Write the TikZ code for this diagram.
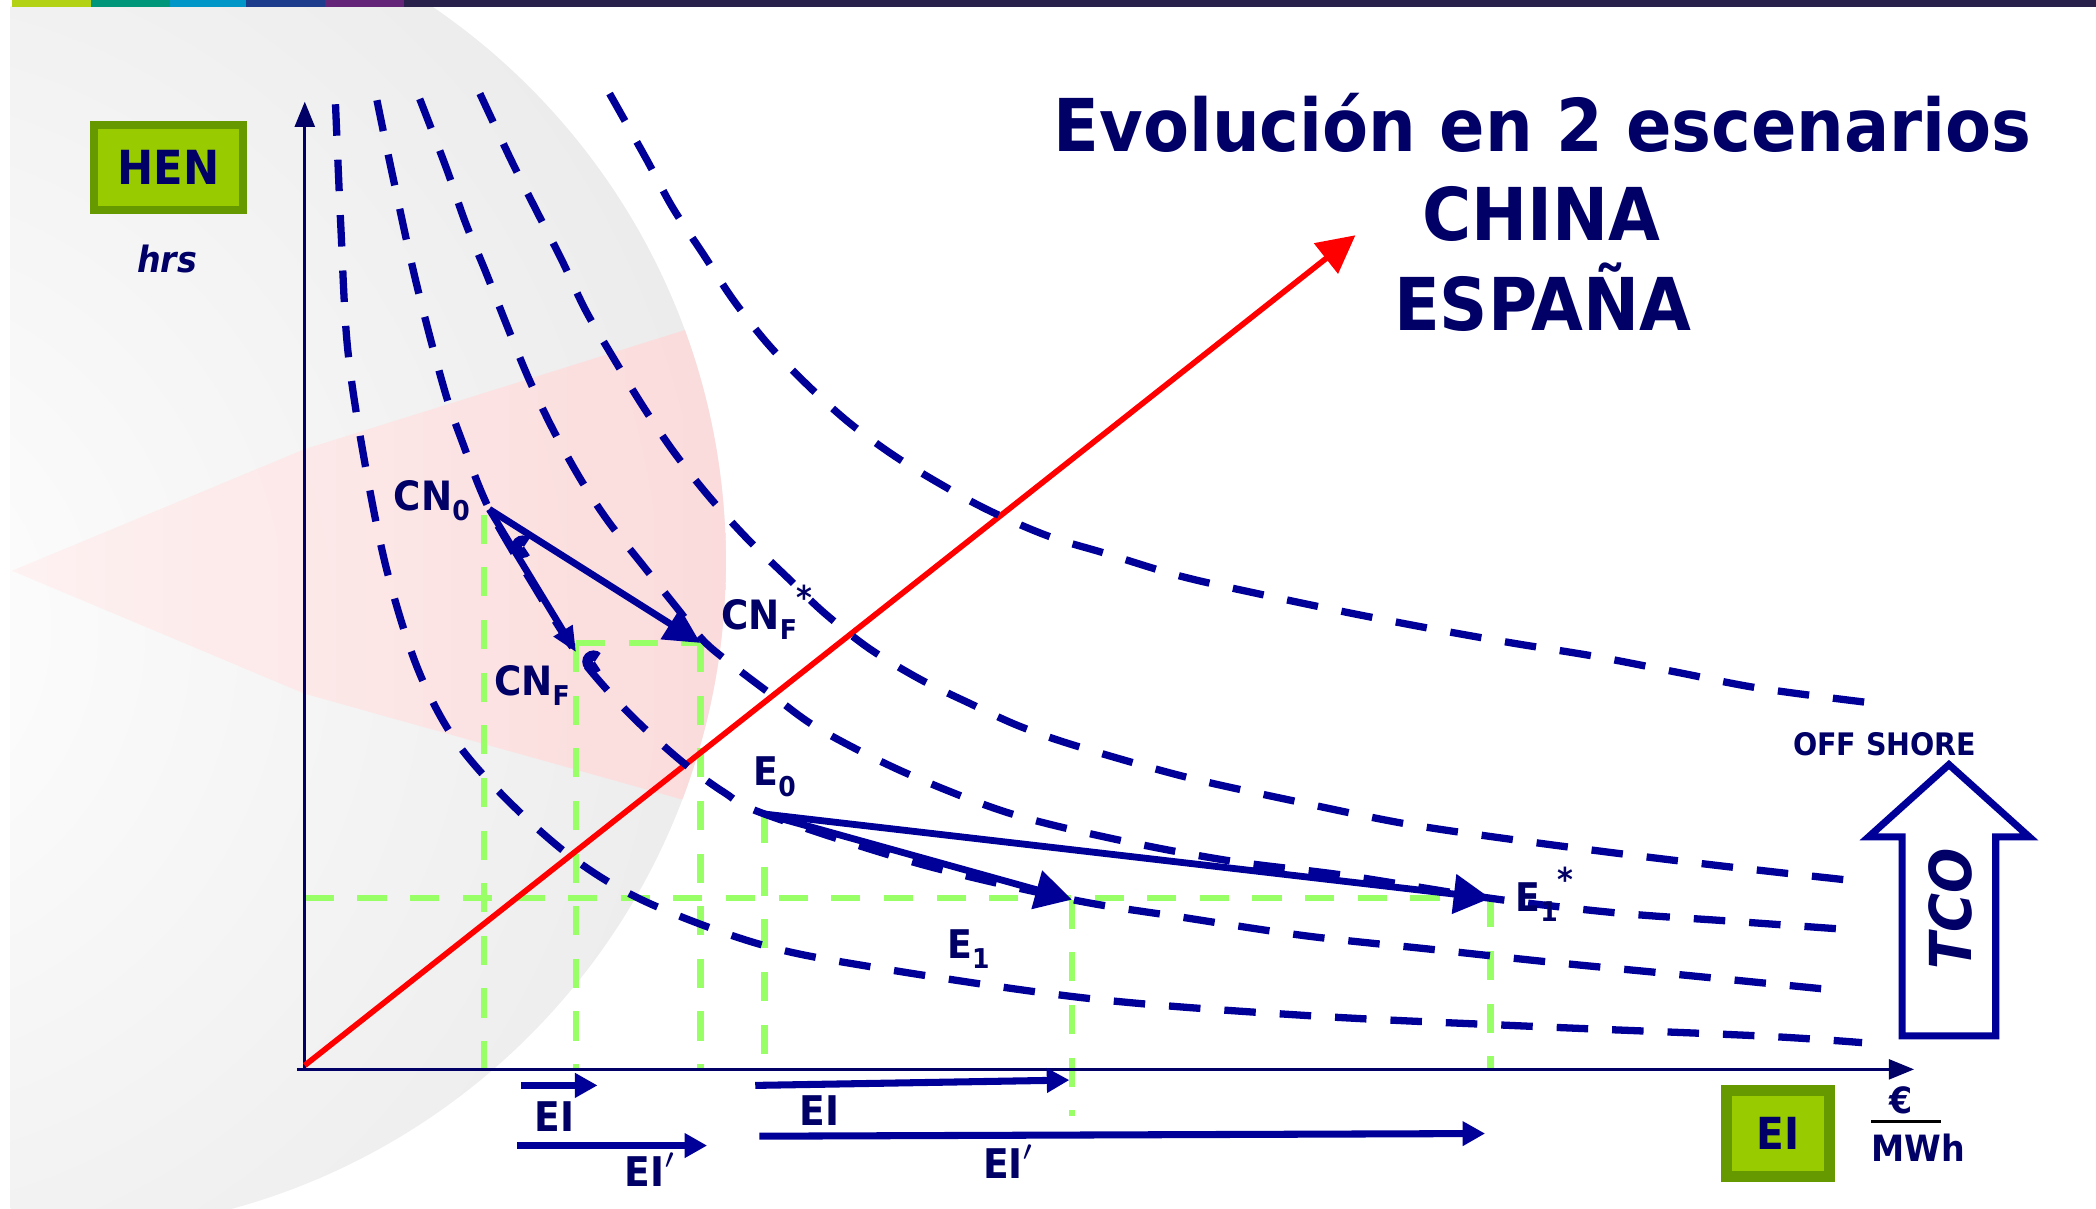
\documentclass[tikz,border=0pt]{standalone}
\usepackage{fontspec}
\setmainfont{DejaVu Sans}[FakeStretch=0.92]
\usetikzlibrary{arrows.meta}

\definecolor{inkblue}{HTML}{000066}
\definecolor{curveblue}{HTML}{000099}
\definecolor{guidegreen}{HTML}{99FF66}
\definecolor{boxgreen}{HTML}{99CC00}
\definecolor{boxedge}{HTML}{669900}
\definecolor{barlime}{HTML}{B4D214}
\definecolor{barteal}{HTML}{00967A}
\definecolor{barcyan}{HTML}{0096C8}
\definecolor{barblue}{HTML}{1E3C8C}
\definecolor{barpurple}{HTML}{642478}
\definecolor{barnavy}{HTML}{28214B}

\newcommand{\lowidx}[1]{\raisebox{-2.2pt}{\fontsize{5.8}{6}\selectfont #1}}
\newcommand{\starmark}{\raisebox{4.2pt}{\fontsize{7}{7}\selectfont *}}

\tikzset{
  isocurve/.style={draw=curveblue, line width=1.55pt, dash pattern=on 6.7pt off 5.1pt},
  guide/.style={draw=guidegreen, line width=1.35pt, dash pattern=on 6.2pt off 5pt},
  axis/.style={draw=inkblue, line width=0.7pt, -{Triangle[length=5.4pt,width=4.2pt]}},
  vec/.style={draw=curveblue, line width=1.45pt, -{Triangle[length=7.8pt,width=8.2pt]}},
  vecsmall/.style={draw=curveblue, line width=1.45pt, -{Triangle[length=5.4pt,width=4.4pt]}},
  flow/.style={draw=curveblue, line width=1.5pt, -{Triangle[length=4.8pt,width=5pt]}},
  anglemark/.style={draw=curveblue, line width=2.2pt},
  ptlabel/.style={text=inkblue, font=\bfseries\fontsize{8.6}{10}\selectfont, inner sep=0pt},
  elabel/.style={ptlabel, font=\bfseries\fontsize{8.4}{10}\selectfont},
  flowlabel/.style={ptlabel, font=\bfseries\fontsize{8.7}{10}\selectfont},
  keybox/.style={draw=boxedge, fill=boxgreen, text=inkblue, inner sep=0pt},
  headline/.style={text=inkblue, font=\bfseries\fontsize{15.5}{18}\selectfont, inner sep=0pt, anchor=base},
}

\begin{document}
\begin{tikzpicture}[x=0.01cm, y=-0.01cm]
\useasboundingbox (0,0) rectangle (1568,904);

% shaded ball with the pink wedge
\begin{scope}
  \clip (8,5) rectangle (1568,904);
  \clip (41,420) circle (502);
  \shade[inner color=white, outer color=gray!25] (-120,470) circle (1120);
  \shade[left color=red!6, right color=red!16, fill opacity=0.8] (9,427) -- (228,336) -- (560,232) -- (560,612) -- (228,519) -- cycle;
\end{scope}

% colour bar
\fill[barlime] (9,0) rectangle (68,5);
\fill[barteal] (68,0) rectangle (127,5);
\fill[barcyan] (127,0) rectangle (184,5);
\fill[barblue] (184,0) rectangle (243,5);
\fill[barpurple] (243,0) rectangle (302,5);
\fill[barnavy] (302,0) rectangle (1568,5);

% points
\coordinate (O) at (228,800);
\coordinate (xstart) at (222,800);
\coordinate (xend) at (1432,800);
\coordinate (ytop) at (228,76);
\coordinate (rstart) at (228,797);
\coordinate (rtip) at (1014,176);
\coordinate (cn0) at (366,381);
\coordinate (cnf) at (431,488);
\coordinate (cnfs) at (524,481);
\coordinate (e0) at (572,609);
\coordinate (e1) at (802,673);
\coordinate (e1s) at (1115,672);

% green guides
\draw[guide] (cn0) ++(-4,4) coordinate (cn0g) -- (cn0g |- O);
\draw[guide] (cnf |- cnfs) -- (cnfs);
\draw[guide] (cnf |- cnfs) -- (cnf |- O);
\draw[guide] (cnfs) -- (cnfs |- O);
\draw[guide] (e0) -- (e0 |- O);
\draw[guide] (O |- e1s) -- (e1s);
\draw[guide] (e1) -- ([yshift=-10]e1 |- O);
\draw[guide] (e1s) -- (e1s |- O);

% axes and red ray
\draw[axis] (O) -- (ytop);
\draw[axis] (xstart) -- (xend);
\draw[draw=red, line width=1.2pt, -{Triangle[length=8pt,width=8pt]}] (rstart) -- (rtip);

% iso-curves
\draw[isocurve] plot[smooth, tension=0.55] coordinates {(251,78) (255,170) (260,260) (272,341) (289,425) (312,499) (340,553) (380,599) (430,643) (484,675) (567,706) (650,723) (815,747) (982,760) (1150,768) (1317,775) (1393,780)};
\draw[isocurve] plot[smooth, tension=0.55] coordinates {(282,75) (293,128) (311,210) (332,290) (346,331) (366,381) (398,436) (431,488) (468,531) (508,568) (542,593) (572,609) (687,646) (802,673) (883,686) (976,700) (1069,710) (1162,720) (1255,729) (1376,741)};
\draw[isocurve] plot[smooth, tension=0.55] coordinates {(314,74) (334,126) (348,166) (364,205) (379,243) (395,282) (413,320) (434,358) (455,390) (481,423) (505,453) (526,479) (546,496) (579,521) (614,546) (677,578) (754,608) (835,628) (920,644) (1007,655) (1115,672) (1210,683) (1293,689) (1377,695)};
\draw[isocurve] plot[smooth, tension=0.55] coordinates {(359,70) (382,119) (401,157) (420,194) (438,232) (459,268) (481,304) (504,338) (530,371) (559,403) (589,432) (616,458) (650,485) (688,508) (725,526) (762,543) (805,558) (886,581) (967,599) (1050,616) (1131,628) (1215,639) (1298,649) (1388,659)};
\draw[isocurve] plot[smooth, tension=0.55] coordinates {(456,70) (483,118) (503,155) (526,190) (549,225) (575,258) (604,288) (635,316) (669,341) (705,363) (740,382) (784,401) (827,414) (883,431) (945,445) (1007,458) (1069,470) (1131,481) (1193,491) (1255,503) (1317,515) (1401,526)};

% moves
\draw[vec, -{Triangle[length=7.6pt,width=7.4pt]}] (cn0) -- (cnfs);
\draw[vecsmall] (cn0) -- (cnf);
\draw[vec] (e0) -- (e1);
\draw[vec] (e0) -- (e1s);
\coordinate (mk1) at (391,409);
\coordinate (mk2) at (444,495);
\draw[anglemark] (mk1) ++(45:4.5) arc[start angle=45, end angle=315, radius=4.5];
\draw[anglemark] (mk2) ++(45:4.5) arc[start angle=45, end angle=315, radius=4.5];

% point labels
\node[ptlabel, anchor=base west] (cn0lbl) at (294,382) {CN\lowidx{0}};
\node[ptlabel, anchor=base west] (cnflbl) at (369,520) {CN\lowidx{F}};
\node[ptlabel, anchor=base west] (cnfslbl) at (539,471) {CN\lowidx{F}\starmark};
\node[elabel, anchor=base west] (e0lbl) at (563,588) {E\lowidx{0}};
\node[elabel, anchor=base west] (e1lbl) at (708,717) {E\lowidx{1}};
\node[elabel, anchor=base west] (e1slbl) at (1133,682) {E\lowidx{1}\starmark};

% title
\node[headline] (title) at (1154,113) {Evolución en 2 escenarios};
\node[headline] (china) at (1153,180) {CHINA};
\node[headline] (spain) at (1154,247) {ESPAÑA};

% y side
\node[keybox, line width=1.7pt, minimum width=1.12cm, minimum height=0.635cm, font=\bfseries\fontsize{10}{12}\selectfont] (henbox) at (126,125) {HEN};
\node[text=inkblue, anchor=base, inner sep=0pt, font=\bfseries\itshape\fontsize{7.7}{9}\selectfont] (hrs) at (125,204) {hrs};

% offshore arrow
\node[text=inkblue, anchor=base, inner sep=0pt, font=\bfseries\fontsize{6.6}{8}\selectfont] (offshore) at (1410,565) {OFF SHORE};
\draw[draw=curveblue, line width=1.5pt, fill=white] (1458,572) -- (1518,626) -- (1493,626) -- (1493,775) -- (1423,775) -- (1423,626) -- (1398,626) -- cycle;
\node[text=inkblue, rotate=90, inner sep=0pt, font=\bfseries\itshape\fontsize{12.3}{14}\selectfont] (tco) at (1459,680) {TCO};

% x side
\node[keybox, line width=2.4pt, minimum width=0.77cm, minimum height=0.645cm, font=\bfseries\fontsize{9.4}{11}\selectfont] (eibox) at (1330,848) {EI};
\node[text=inkblue, anchor=base, inner sep=0pt, font=\bfseries\fontsize{7.7}{9}\selectfont] (euro) at (1422,833) {€};
\coordinate (fracl) at (1400,839);
\coordinate (fracr) at (1452,839);
\draw[line width=0.5pt] (fracl) -- (fracr);
\node[text=inkblue, anchor=base, inner sep=0pt, font=\bfseries\fontsize{7.7}{9}\selectfont] (mwh) at (1435,869) {MWh};

% shifts along the axis
\coordinate (a1s) at (390,812);
\coordinate (a1e) at (447,812);
\coordinate (a2s) at (387,857);
\coordinate (a2e) at (529,857);
\coordinate (a3s) at (565,812);
\coordinate (a3e) at (800,808);
\coordinate (a4s) at (568,850);
\coordinate (a4e) at (1111,848);
\draw[flow] (a1s) -- (a1e);
\draw[flow] (a2s) -- (a2e);
\draw[flow] (a3s) -- (a3e);
\draw[flow] (a4s) -- (a4e);
\node[flowlabel] (ei1) at (415,835) {EI};
\node[flowlabel] (eip1) at (487,875) {EI$'$};
\node[flowlabel] (ei2) at (613,831) {EI};
\node[flowlabel] (eip2) at (755,869) {EI$'$};

\end{tikzpicture}
\end{document}
